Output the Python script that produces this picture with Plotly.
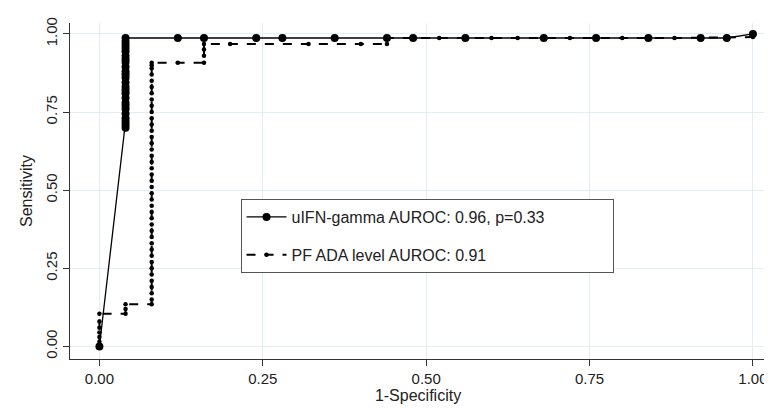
import plotly.graph_objects as go

# uIFN-gamma ROC
u_x = [0.0, 0.04, 0.04, 0.04, 0.04, 0.04, 0.04, 0.04, 0.04, 0.04, 0.04, 0.04, 0.04, 0.04, 0.04, 0.04, 0.04, 0.04, 0.04, 0.04, 0.04,
       0.04, 0.04, 0.04, 0.04, 0.04, 0.12, 0.16, 0.24, 0.28, 0.36, 0.44, 0.48, 0.56, 0.68, 0.76, 0.84, 0.92, 0.96, 1.0]
u_y = [0.0, 0.70, 0.71, 0.72, 0.73, 0.745, 0.76, 0.77, 0.78, 0.795, 0.81, 0.82, 0.83, 0.845, 0.86, 0.87, 0.88, 0.895, 0.91, 0.92,
       0.93, 0.945, 0.955, 0.965, 0.975, 0.987, 0.987, 0.987, 0.987, 0.987, 0.987, 0.987, 0.987, 0.987, 0.987, 0.987, 0.987,
       0.987, 0.987, 1.0]

# PF ADA ROC
a_x = [0.0, 0.0, 0.0, 0.0, 0.0, 0.0, 0.0, 0.04, 0.04, 0.04, 0.08,
       0.08, 0.08, 0.08, 0.08, 0.08, 0.08, 0.08, 0.08, 0.08, 0.08, 0.08, 0.08, 0.08, 0.08, 0.08, 0.08, 0.08, 0.08, 0.08, 0.08,
       0.08, 0.08, 0.08, 0.08, 0.08, 0.08, 0.08, 0.08, 0.08, 0.08, 0.08, 0.08, 0.08, 0.08, 0.08, 0.08, 0.08, 0.08, 0.08, 0.08,
       0.12, 0.16, 0.16, 0.16, 0.16, 0.20, 0.32, 0.40, 0.44, 0.44,
       0.52, 0.60, 0.64, 0.72, 0.80, 0.88, 1.0]
a_y = [0.0, 0.015, 0.03, 0.045, 0.06, 0.08, 0.105, 0.105, 0.12, 0.135, 0.135,
       0.15, 0.17, 0.19, 0.21, 0.23, 0.25, 0.27, 0.29, 0.31, 0.33, 0.35, 0.37, 0.39, 0.41, 0.43, 0.45, 0.47, 0.49, 0.51, 0.53,
       0.55, 0.57, 0.59, 0.61, 0.63, 0.65, 0.67, 0.69, 0.71, 0.73, 0.75, 0.77, 0.79, 0.81, 0.83, 0.85, 0.87, 0.89, 0.90, 0.908,
       0.908, 0.908, 0.93, 0.95, 0.968, 0.968, 0.968, 0.968, 0.968, 0.987,
       0.987, 0.987, 0.987, 0.987, 0.987, 0.987, 0.99]

x_ticks = [0, 0.25, 0.5, 0.75, 1.0]
x_labels = ["0.00", "0.25", "0.50", "0.75", "1.00"]
y_ticks = [0, 0.25, 0.5, 0.75, 1.0]
y_labels = ["0.00", "0.25", "0.50", "0.75", "1.00"]

pad = "\u00a0" * 14
fig = go.Figure()
fig.add_trace(go.Scatter(x=u_x, y=u_y, mode="lines+markers", name="uIFN-gamma AUROC: 0.96, p=0.33" + pad,
                         legendgroup="a",
                         line=dict(color="black", width=1.3), marker=dict(color="black", size=8)))
fig.add_trace(go.Scatter(x=a_x, y=a_y, mode="lines+markers", name="PF ADA level AUROC: 0.91",
                         legendgroup="b",
                         line=dict(color="black", width=2, dash="dash"),
                         marker=dict(color="black", size=4.5)))

axis_common = dict(showline=True, linecolor="#333", linewidth=1, ticks="outside", ticklen=6, tickcolor="#333",
                   showgrid=True, gridcolor="#e3eef2", gridwidth=1, zeroline=False,
                   tickfont=dict(size=15, color="#222"), title_font=dict(size=16, color="#222"))
fig.update_xaxes(range=[-0.045, 1.02], tickvals=x_ticks, ticktext=x_labels, title_text="1-Specificity",
                 title_standoff=2, **axis_common)
fig.update_yaxes(range=[-0.04, 1.035], tickvals=y_ticks, ticktext=y_labels, title_text="Sensitivity",
                 tickangle=-90, title_standoff=6, **axis_common)
fig.update_layout(width=772, height=414, plot_bgcolor="white", paper_bgcolor="white",
                  font=dict(family="Liberation Sans, Arial, sans-serif", color="#222"),
                  margin=dict(l=62, r=14, t=9, b=63),
                  legend=dict(x=0.245, y=0.476, xanchor="left", yanchor="top", bordercolor="#555", borderwidth=1,
                              bgcolor="white", font=dict(size=16), tracegroupgap=14, itemwidth=40))
fig.write_html("out.html")
